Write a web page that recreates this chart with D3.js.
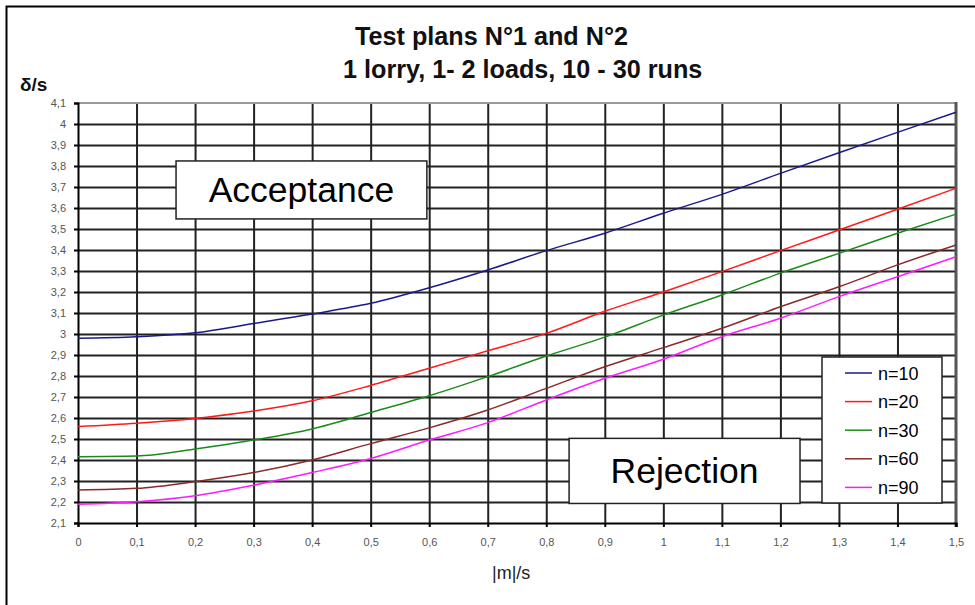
<!DOCTYPE html>
<html><head><meta charset="utf-8">
<script src="https://cdn.jsdelivr.net/npm/d3@7"></script>
<style>
html,body{margin:0;padding:0;background:#fff;}
svg{display:block;font-family:"Liberation Sans",Arial,sans-serif;}
</style></head>
<body>
<svg id="chart" width="975" height="605"></svg>
<script>
// ---- data ----
const xValues = [0,0.1,0.2,0.3,0.4,0.5,0.6,0.7,0.8,0.9,1.0,1.1,1.2,1.3,1.4,1.5];
const n10 = [2.980,2.987,3.006,3.050,3.095,3.146,3.220,3.305,3.397,3.480,3.575,3.665,3.765,3.863,3.960,4.056];
const n20 = [2.559,2.575,2.598,2.633,2.682,2.755,2.837,2.920,3.003,3.108,3.200,3.297,3.397,3.495,3.594,3.694];
const n30 = [2.416,2.419,2.452,2.495,2.548,2.626,2.706,2.797,2.895,2.985,3.090,3.186,3.290,3.384,3.480,3.571];
const n60 = [2.257,2.265,2.297,2.340,2.400,2.478,2.553,2.638,2.741,2.844,2.935,3.027,3.130,3.225,3.329,3.424];
const n90 = [2.189,2.201,2.230,2.280,2.340,2.407,2.495,2.578,2.686,2.789,2.880,2.987,3.075,3.178,3.273,3.368];
const seriesNames = ["n=10","n=20","n=30","n=60","n=90"];
const seriesColors = ["#1a1a8a","#ff1a1a","#1a8c1a","#8b2a2a","#ff1aff"];
const xTicks = [0,0.1,0.2,0.3,0.4,0.5,0.6,0.7,0.8,0.9,1,1.1,1.2,1.3,1.4,1.5];
const yTicks = [2.1,2.2,2.3,2.4,2.5,2.6,2.7,2.8,2.9,3,3.1,3.2,3.3,3.4,3.5,3.6,3.7,3.8,3.9,4,4.1];
const titleLines = ["Test plans N°1 and N°2","1 lorry, 1- 2 loads, 10 - 30 runs"];
const yLabel = "δ/s", xLabel = "|m|/s";
const annotations = [
  {text:"Acceptance", x0:0.1675, x1:0.596, y0:3.824, y1:3.548},
  {text:"Rejection",  x0:0.839,  x1:1.2335, y0:2.503, y1:2.193}
];

const allSeries = [n10,n20,n30,n60,n90];
const svg = d3.select("#chart");
const x = d3.scaleLinear().domain([0,1.5]).range([78,956]);
const y = d3.scaleLinear().domain([2.1,4.1]).range([523,103]);
const fmt = d => String(+d.toFixed(1)).replace(".",",");

// outer frame
svg.append("rect").attr("x",6.5).attr("y",6.5).attr("width",1200).attr("height",1200)
  .attr("fill","none").attr("stroke","#000").attr("stroke-width",2);

// grid
const grid = svg.append("g");
grid.append("g").attr("transform",`translate(0,${y(2.1)})`)
  .call(d3.axisBottom(x).tickValues(xTicks.slice(1,-1)).tickSize(-(y(2.1)-y(4.1))).tickFormat(""))
  .call(g=>g.select(".domain").remove())
  .call(g=>g.selectAll("line").attr("stroke","#222").attr("stroke-width",2));
grid.append("g").attr("transform",`translate(${x(0)},0)`)
  .call(d3.axisLeft(y).tickValues(yTicks.slice(1,-1)).tickSize(-(x(1.5)-x(0))).tickFormat(""))
  .call(g=>g.select(".domain").remove())
  .call(g=>g.selectAll("line").attr("stroke","#222").attr("stroke-width",2));
// top and right edges
svg.append("line").attr("x1",x(0)).attr("x2",x(1.5)).attr("y1",y(4.1)).attr("y2",y(4.1))
  .attr("stroke","#9a9a9a").attr("stroke-width",2);
svg.append("line").attr("x1",x(1.5)).attr("x2",x(1.5)).attr("y1",y(4.1)-1).attr("y2",y(2.1)+4)
  .attr("stroke","#555").attr("stroke-width",3);

// axes
const axX = svg.append("g").attr("transform",`translate(0,${y(2.1)})`)
  .call(d3.axisBottom(x).tickValues(xTicks).tickSize(4).tickPadding(11).tickFormat(fmt));
const axY = svg.append("g").attr("transform",`translate(${x(0)},0)`)
  .call(d3.axisLeft(y).tickValues(yTicks).tickSize(4).tickPadding(8).tickFormat(fmt));
[axX,axY].forEach(a=>{
  a.select(".domain").attr("stroke","#000").attr("stroke-width",2);
  a.selectAll(".tick line").attr("stroke","#000").attr("stroke-width",2);
  a.selectAll("text").attr("font-size",11).attr("fill","#555")
   .attr("font-family","'Liberation Sans',Arial,sans-serif");
});

// annotation boxes
annotations.forEach(a=>{
  const bx = x(a.x0), by = y(a.y0), bw = x(a.x1)-x(a.x0), bh = y(a.y1)-y(a.y0);
  svg.append("rect").attr("x",bx).attr("y",by).attr("width",bw).attr("height",bh)
    .attr("fill","#fff").attr("stroke","#222").attr("stroke-width",1.5);
  svg.append("text").attr("x",bx+bw/2).attr("y",by+bh/2+12.5).attr("text-anchor","middle")
    .attr("font-size",35.5).attr("fill","#000").text(a.text);
});

// lines
const line = d3.line().x((d,i)=>x(xValues[i])).y(d=>y(d)).curve(d3.curveMonotoneX);
allSeries.forEach((s,k)=>{
  svg.append("path").datum(s).attr("d",line).attr("fill","none")
    .attr("stroke",seriesColors[k]).attr("stroke-width",1.5);
});

// legend
const lg = svg.append("g");
lg.append("rect").attr("x",822).attr("y",357).attr("width",120).attr("height",146)
  .attr("fill","#fff").attr("stroke","#222").attr("stroke-width",1.5);
seriesNames.forEach((n,i)=>{
  const cy = 373 + i*28.6;
  lg.append("line").attr("x1",845).attr("x2",872).attr("y1",cy).attr("y2",cy)
    .attr("stroke",seriesColors[i]).attr("stroke-width",1.5);
  lg.append("text").attr("x",878).attr("y",cy+6.5).attr("font-size",18).attr("fill","#000").text(n);
});

// titles
svg.append("text").attr("x",355).attr("y",45).attr("font-size",25.2).attr("font-weight","bold")
  .attr("fill","#111").text(titleLines[0]);
svg.append("text").attr("x",343).attr("y",77.5).attr("font-size",25.2).attr("font-weight","bold")
  .attr("fill","#111").text(titleLines[1]);
svg.append("text").attr("x",20).attr("y",91).attr("font-size",19).attr("font-weight","bold")
  .attr("fill","#111").text(yLabel);
svg.append("text").attr("x",492).attr("y",579).attr("font-size",18).attr("fill","#222").text(xLabel);
</script>
</body></html>
